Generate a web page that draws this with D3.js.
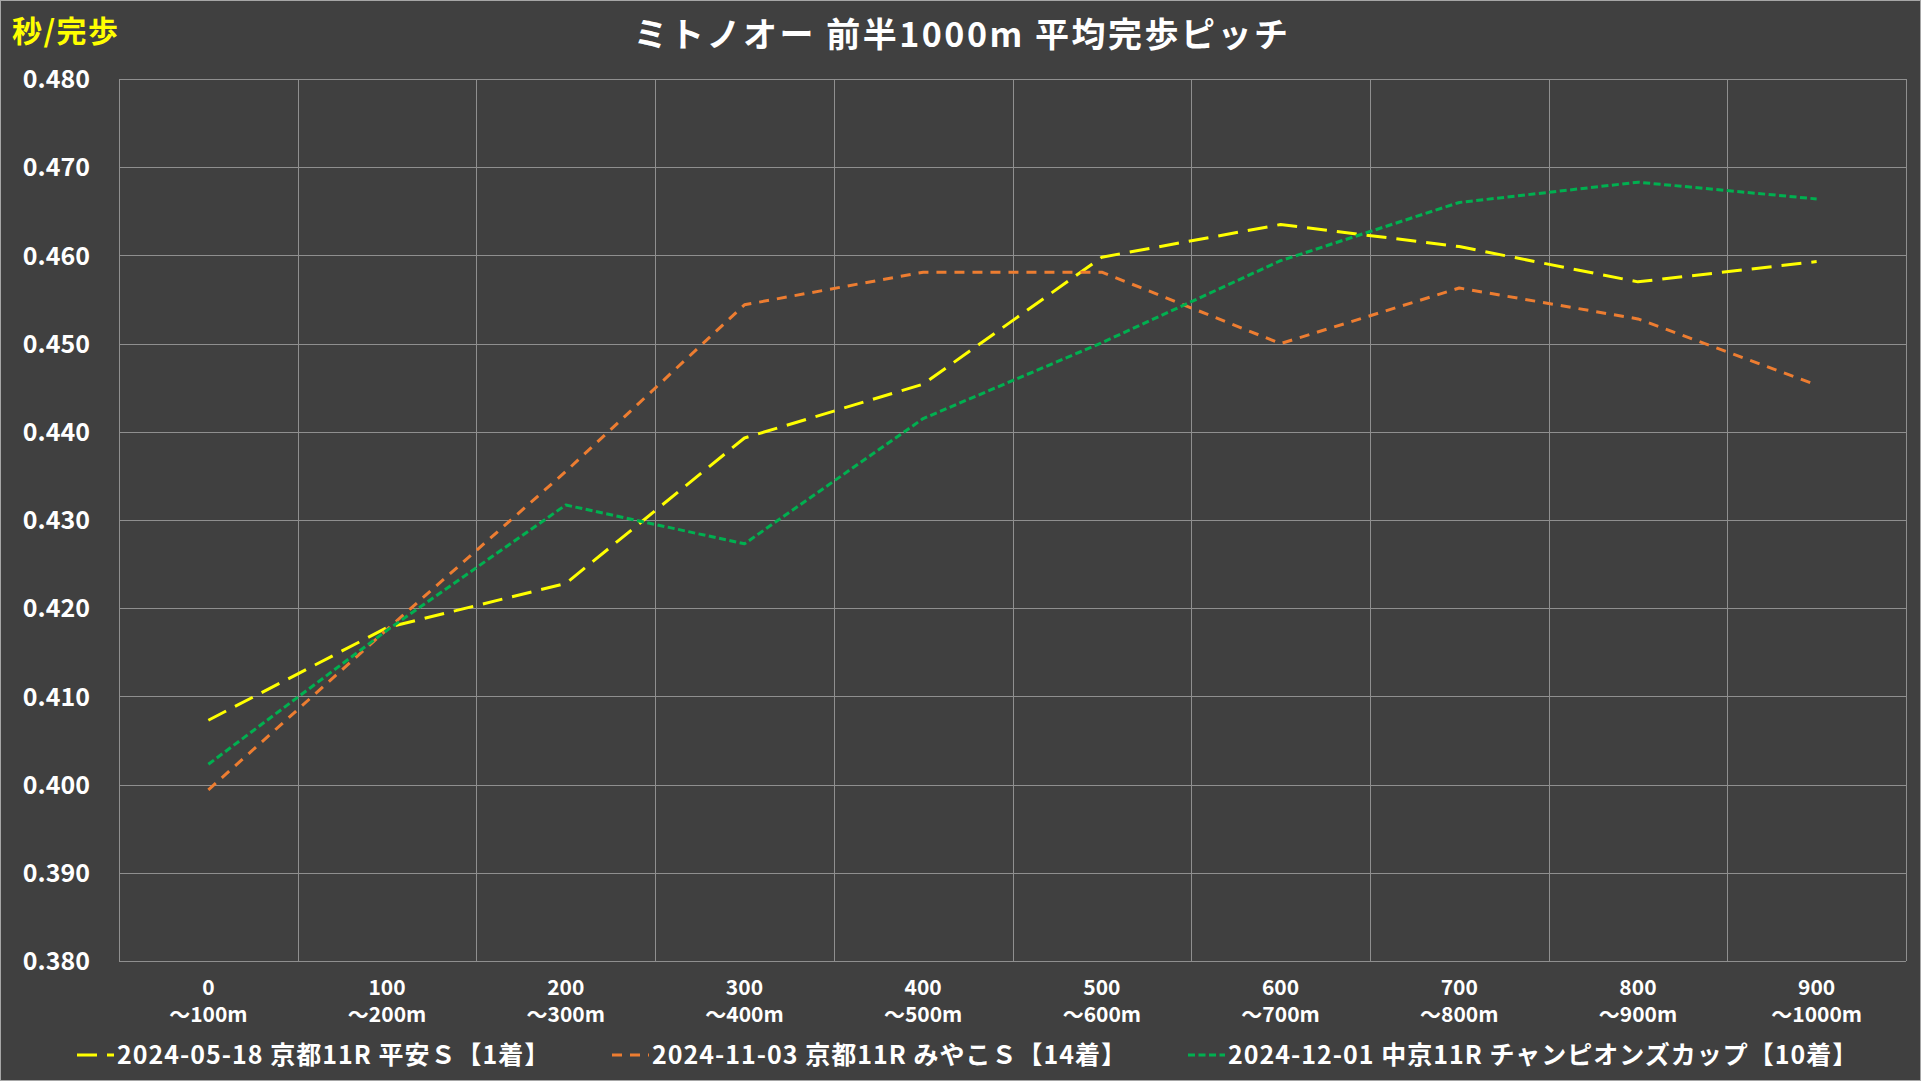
<!DOCTYPE html>
<html><head><meta charset="utf-8">
<script src="https://cdn.jsdelivr.net/npm/d3@7"></script>
<style>
html,body{margin:0;padding:0;background:#404040;}
svg{display:block;}
text{font-family:"Noto Sans CJK JP","Noto Sans",sans-serif;font-weight:700;}
</style></head><body>
<script>
const categories = ["0","100","200","300","400","500","600","700","800","900"];
const categories2 = ["～100m","～200m","～300m","～400m","～500m","～600m","～700m","～800m","～900m","～1000m"];
const seriesNames = ["2024-05-18 京都11R 平安Ｓ【1着】","2024-11-03 京都11R みやこＳ【14着】","2024-12-01 中京11R チャンピオンズカップ【10着】"];
const heian = [0.4073,0.4178,0.4228,0.4393,0.4454,0.4598,0.4635,0.4610,0.4570,0.4593];
const miyako = [0.3994,0.4176,0.4355,0.4544,0.4581,0.4581,0.4500,0.4563,0.4528,0.4453];
const champions = [0.4023,0.4175,0.4317,0.4273,0.4415,0.4501,0.4594,0.4660,0.4683,0.4664];
const yTicks = [0.38,0.39,0.40,0.41,0.42,0.43,0.44,0.45,0.46,0.47,0.48];
const title = "ミトノオー 前半1000m 平均完歩ピッチ";
const yLabel = "秒/完歩";

const W=1921,H=1081;
const svg=d3.select("body").append("svg").attr("width",W).attr("height",H);
svg.append("rect").attr("x",0.5).attr("y",0.5).attr("width",W-1).attr("height",H-1)
  .attr("fill","#404040").attr("stroke","#a6a6a6").attr("stroke-width",1);

const L=119,R=1906,T=79,B=961;
const x=d3.scaleBand().domain(categories).range([L,R]);
const y=d3.scaleLinear().domain([0.38,0.48]).range([B,T]);

// gridlines
const g=svg.append("g");
g.selectAll(".hg").data(yTicks).join("line")
  .attr("x1",L).attr("x2",R).attr("y1",d=>Math.round(y(d))+0.5).attr("y2",d=>Math.round(y(d))+0.5)
  .attr("stroke","#8f8f8f").attr("stroke-width",1);
const bounds=categories.map(c=>x(c)).concat([x(categories[categories.length-1])+x.bandwidth()]);
g.selectAll(".vg").data(bounds).join("line")
  .attr("x1",d=>Math.round(d)+0.5).attr("x2",d=>Math.round(d)+0.5).attr("y1",T).attr("y2",B)
  .attr("stroke","#8f8f8f").attr("stroke-width",1);

// y axis labels
const yAxis=d3.axisLeft(y).tickValues(yTicks).tickFormat(d3.format(".3f")).tickSize(0).tickPadding(0);
const ya=svg.append("g").attr("transform",`translate(90,0)`).call(yAxis);
ya.select(".domain").remove();
ya.selectAll("text").attr("fill","#ffffff").attr("font-size",25).attr("dy","0.35em")
  .style("font-family",'"Noto Sans CJK JP",sans-serif').style("font-weight",700);

// x axis labels (two lines)
const xAxis=d3.axisBottom(x).tickSize(0).tickPadding(0).tickFormat(()=> "");
const xa=svg.append("g").attr("transform",`translate(0,${B})`).call(xAxis);
xa.select(".domain").remove();
xa.selectAll(".tick").each(function(d,i){
  const t=d3.select(this).select("text").attr("fill","#ffffff").attr("font-size",21).attr("y",0).attr("dy",0);
  t.append("tspan").attr("x",0).attr("y",34).text(categories[i]);
  t.append("tspan").attr("x",0).attr("y",61).text(categories2[i]);
});

// lines
const colors=["#ffff00","#ed7d31","#00b050"];
const dashes=["20,10","10,8","7,3.5"];
const data=[heian,miyako,champions];
const line=d3.line().x((d,i)=>x(categories[i])+x.bandwidth()/2).y(d=>y(d));
svg.append("g").selectAll("path").data(data).join("path")
  .attr("d",line).attr("fill","none")
  .attr("stroke",(d,i)=>colors[i]).attr("stroke-width",3)
  .attr("stroke-dasharray",(d,i)=>dashes[i]).attr("stroke-linejoin","round");

// title
svg.append("text").attr("x",962).attr("y",47).attr("text-anchor","middle")
  .attr("fill","#ffffff").attr("font-size",34).attr("letter-spacing",2.5).text(title);
svg.append("text").attr("x",12).attr("y",42).attr("fill","#ffff00").attr("font-size",30).attr("letter-spacing",1.5).text(yLabel);

// legend
const legX=[77,612,1188];
const lg=svg.append("g");
seriesNames.forEach((n,i)=>{
  lg.append("line").attr("x1",legX[i]).attr("x2",legX[i]+37).attr("y1",1055).attr("y2",1055)
    .attr("stroke",colors[i]).attr("stroke-width",3).attr("stroke-dasharray",dashes[i]);
  lg.append("text").attr("x",legX[i]+40).attr("y",1064).attr("fill","#ffffff").attr("font-size",25).attr("letter-spacing",1).text(n);
});
</script>
</body></html>
